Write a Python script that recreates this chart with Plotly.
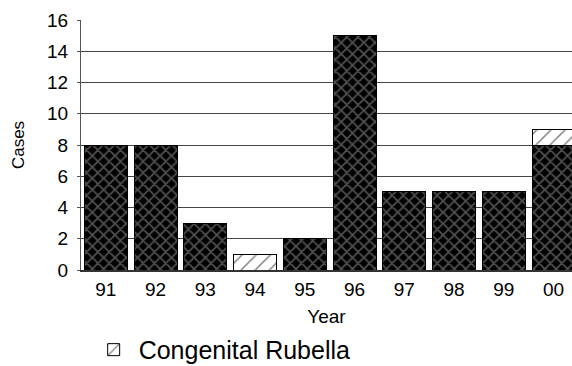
import plotly.graph_objects as go

years = ["91", "92", "93", "94", "95", "96", "97", "98", "99", "00"]
rubella = [8, 8, 3, None, 2, 15, 5, 5, 5, 8]
congenital = [None, None, None, 1, None, None, None, None, None, 1]
y_ticks = [0, 2, 4, 6, 8, 10, 12, 14, 16]

FONT = "Liberation Sans, Arial, sans-serif"

fig = go.Figure()
fig.add_trace(go.Bar(
    x=years, y=rubella, name="Rubella", showlegend=False,
    width=0.864,
    marker=dict(color="black",
                line=dict(color="black", width=1),
                pattern=dict(shape="x", bgcolor="black", fgcolor="#a0a0a0",
                             size=8, solidity=0.4)),
))
fig.add_trace(go.Bar(
    x=years, y=congenital, name="Congenital Rubella",
    width=0.864,
    marker=dict(color="white",
                line=dict(color="black", width=1),
                pattern=dict(shape="/", bgcolor="white", fgcolor="black",
                             size=10, solidity=0.15)),
))

fig.update_layout(
    barmode="stack",
    width=572, height=366,
    margin=dict(l=81, r=0, t=20, b=96, autoexpand=False),
    paper_bgcolor="white", plot_bgcolor="white",
    font=dict(family=FONT, color="black", size=19),
    xaxis=dict(
        type="category", range=[-0.5, 9.37], automargin=False,
        showgrid=False, showline=True, linecolor="#333", linewidth=2,
        ticks="", tickfont=dict(size=19), ticklabelstandoff=1,
        title=dict(text="Year", font=dict(size=19), standoff=21),
    ),
    yaxis=dict(
        range=[0, 16], tickvals=y_ticks, automargin=False,
        showgrid=True, gridcolor="#444", gridwidth=1,
        showline=True, linecolor="#555", linewidth=1,
        ticks="outside", ticklen=3, tickcolor="#555",
        tickfont=dict(size=19), ticklabelstandoff=5,
        zeroline=False,
        title=dict(text="Cases", font=dict(size=17), standoff=18),
    ),
    legend=dict(
        orientation="h", xref="container", yref="container",
        x=0.155, y=0.044, xanchor="left", yanchor="middle",
        font=dict(size=25), itemwidth=40,
        bgcolor="rgba(0,0,0,0)",
    ),
)

fig.write_html("out.html", config={"displayModeBar": False},
               post_script="document.body.style.margin='0';document.body.style.overflow='hidden';")
